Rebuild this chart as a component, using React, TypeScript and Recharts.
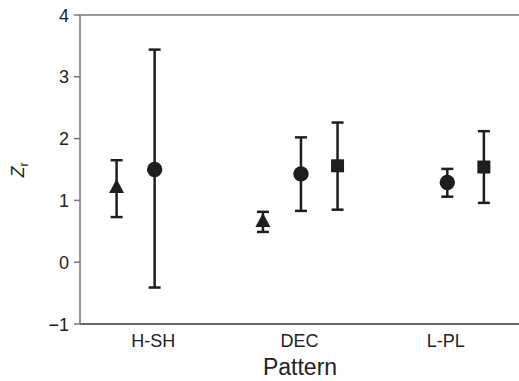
import { ScatterChart, Scatter, XAxis, YAxis, ErrorBar, ReferenceLine } from "recharts"

const patterns = ["H-SH", "DEC", "L-PL"]
const yTicks = [-1, 0, 1, 2, 3, 4]

// z_r means and confidence bounds, null where no value
const triMean = [1.2, 0.65, null]
const triLow = [0.73, 0.49, null]
const triHigh = [1.65, 0.815, null]

const circleMean = [1.5, 1.43, 1.29]
const circleLow = [-0.41, 0.83, 1.06]
const circleHigh = [3.44, 2.02, 1.51]

const squareMean = [null, 1.56, 1.54]
const squareLow = [null, 0.85, 0.96]
const squareHigh = [null, 2.26, 2.12]

const build = (mean: (number | null)[], low: (number | null)[], high: (number | null)[], shift: number) =>
  patterns
    .map((p, i) => ({
      name: p,
      x: i + 1 + shift,
      y: mean[i],
      err: mean[i] == null ? [0, 0] : [(mean[i] as number) - (low[i] as number), (high[i] as number) - (mean[i] as number)],
    }))
    .filter((d) => d.y != null)

const triData = build(triMean, triLow, triHigh, -0.25)
const circleData = build(circleMean, circleLow, circleHigh, 0.01)
const squareData = build(squareMean, squareLow, squareHigh, 0.26)

const ink = "#1e1e1e"
const font = "Liberation Sans, Arial, sans-serif"

const Triangle = (props: any) => {
  const { cx, cy } = props
  return <polygon points={`${cx},${cy - 9} ${cx - 7.5},${cy + 5} ${cx + 7.5},${cy + 5}`} fill={ink} />
}
const Circle = (props: any) => <circle cx={props.cx} cy={props.cy} r={7.7} fill={ink} />
const Square = (props: any) => <rect x={props.cx - 6.5} y={props.cy - 6.5} width={13} height={13} fill={ink} />

const fmtY = (v: number) => (v < 0 ? `\u2212${Math.abs(v)}` : `${v}`)

const XTick = (props: any) => (
  <text x={props.x} y={props.y + 15} textAnchor="middle" fill="#222" fontSize={18} fontFamily={font}>
    {patterns[props.payload.value - 1]}
  </text>
)
const YTick = (props: any) => (
  <text x={props.x - 3} y={props.y + 6.5} textAnchor="end" fill="#222" fontSize={18} fontFamily={font}>
    {fmtY(props.payload.value)}
  </text>
)

export default function App() {
  return (
    <div style={{ position: "absolute", left: 0, top: 0, background: "#fff" }}>
      <ScatterChart width={519} height={381} margin={{ top: 15, right: 0, bottom: 0, left: 0 }}>
        <XAxis
          type="number"
          dataKey="x"
          domain={[0.5, 3.5]}
          ticks={[1, 2, 3]}
          allowDataOverflow
          height={57}
          stroke="#333"
          strokeWidth={1.5}
          tickLine={false}
          tick={<XTick />}
          label={{
            content: () => (
              <text x={300} y={375} textAnchor="middle" fill="#222" fontSize={23} fontFamily={font}>
                Pattern
              </text>
            ),
          }}
        />
        <YAxis
          type="number"
          dataKey="y"
          domain={[-1, 4]}
          ticks={yTicks}
          allowDataOverflow
          width={80}
          stroke="#777"
          strokeWidth={1.5}
          tickSize={6}
          tick={<YTick />}
          label={{
            content: () => (
              <text x={24} y={170} transform="rotate(-90 24 170)" textAnchor="middle" fill="#222" fontFamily={font} fontSize={18}>
                <tspan fontStyle="italic">Z</tspan>
                <tspan fontSize={12} dy={4}>r</tspan>
              </text>
            ),
          }}
        />
        <ReferenceLine y={4} stroke="#777" strokeWidth={1.5} />
        <Scatter data={triData} shape={<Triangle />} isAnimationActive={false}>
          <ErrorBar dataKey="err" direction="y" width={6} stroke={ink} strokeWidth={2.5} />
        </Scatter>
        <Scatter data={circleData} shape={<Circle />} isAnimationActive={false}>
          <ErrorBar dataKey="err" direction="y" width={6} stroke={ink} strokeWidth={2.5} />
        </Scatter>
        <Scatter data={squareData} shape={<Square />} isAnimationActive={false}>
          <ErrorBar dataKey="err" direction="y" width={6} stroke={ink} strokeWidth={2.5} />
        </Scatter>
      </ScatterChart>
    </div>
  )
}
